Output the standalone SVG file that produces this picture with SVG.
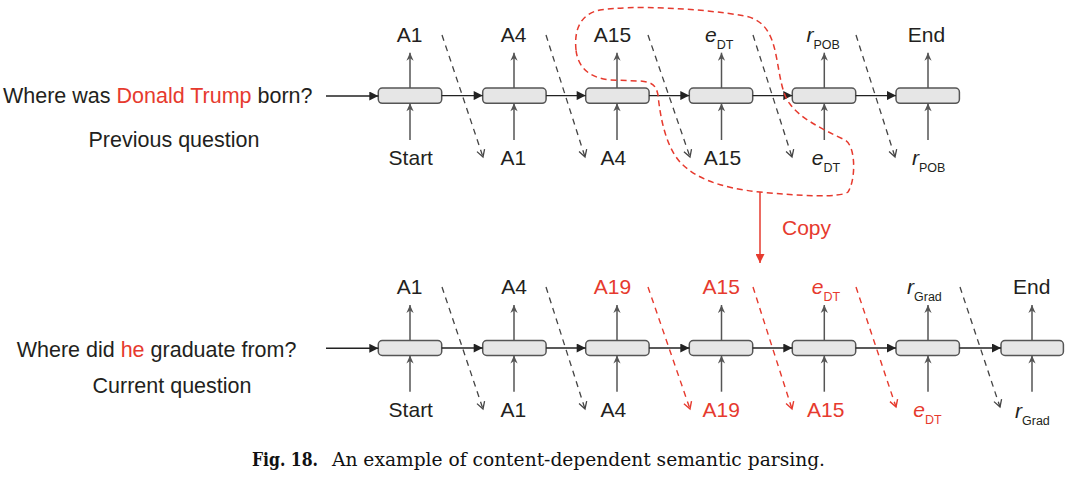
<svg xmlns="http://www.w3.org/2000/svg" width="1071" height="479" viewBox="0 0 1071 479">
<style>
text{font-family:"Liberation Sans",Arial,sans-serif;fill:#231f20;font-size:21px}
.q{font-size:21.5px}
.red{fill:#e63a2e}
.it{font-style:italic}
.sub{font-size:12.5px}
.box{fill:#e6e6e6;stroke:#555;stroke-width:1.5}
.v{stroke:#555;stroke-width:1.5;fill:none;marker-end:url(#up)}
.h{stroke:#222;stroke-width:1.4;fill:none;marker-end:url(#hd)}
.d{stroke:#444;stroke-width:1.3;fill:none;stroke-dasharray:6 5;marker-end:url(#ch)}
.dr{stroke:#e63a2e;stroke-width:1.4;fill:none;stroke-dasharray:6 5;marker-end:url(#chr)}
.cap{font-family:"DejaVu Serif Condensed","DejaVu Serif",serif;font-size:19px;fill:#111}
</style>
<defs>
<marker id="up" markerUnits="userSpaceOnUse" viewBox="0 0 10 10" refX="10" refY="5" markerWidth="9" markerHeight="8" orient="auto"><path d="M0,0.5 L10,5 L0,9.5 L3,5 z" fill="#555"/></marker>
<marker id="hd" markerUnits="userSpaceOnUse" viewBox="0 0 10 10" refX="10" refY="5" markerWidth="11" markerHeight="9" orient="auto"><path d="M0,0 L10,5 L0,10 z" fill="#222"/></marker>
<marker id="ch" markerUnits="userSpaceOnUse" viewBox="-1 -1 10 10" refX="7" refY="4" markerWidth="10" markerHeight="10" orient="auto" overflow="visible"><path d="M0,0 L7,4 L0,8" fill="none" stroke="#444" stroke-width="1.3"/></marker>
<marker id="chr" markerUnits="userSpaceOnUse" viewBox="-1 -1 10 10" refX="7" refY="4" markerWidth="10" markerHeight="10" orient="auto" overflow="visible"><path d="M0,0 L7,4 L0,8" fill="none" stroke="#e63a2e" stroke-width="1.4"/></marker>
<marker id="rd" markerUnits="userSpaceOnUse" viewBox="0 0 10 10" refX="10" refY="5" markerWidth="11" markerHeight="9" orient="auto"><path d="M0,0 L10,5 L0,10 z" fill="#e63a2e"/></marker>
</defs>

<!-- left texts -->
<g id="prev-question">
<text class="q" x="3" y="103.3">Where was <tspan class="red">Donald Trump</tspan> born?</text>
<text class="q" x="174" y="146.7" text-anchor="middle">Previous question</text>
</g>
<g id="curr-question">
<text class="q" x="16.7" y="356.7">Where did <tspan class="red">he</tspan> graduate from?</text>
<text class="q" x="172" y="393.3" text-anchor="middle">Current question</text>
</g>

<!-- top row nodes -->
<g id="t1"><rect class="box" x="378.3" y="88" width="63.4" height="15.3" rx="4"/></g>
<g id="t2"><rect class="box" x="482.7" y="88" width="63.4" height="15.3" rx="4"/></g>
<g id="t3"><rect class="box" x="585.7" y="88" width="63.4" height="15.3" rx="4"/></g>
<g id="t4"><rect class="box" x="689.3" y="88" width="63.4" height="15.3" rx="4"/></g>
<g id="t5"><rect class="box" x="792.3" y="88" width="63.4" height="15.3" rx="4"/></g>
<g id="t6"><rect class="box" x="896" y="88" width="63.4" height="15.3" rx="4"/></g>

<!-- bottom row nodes -->
<g id="b1"><rect class="box" x="378.3" y="340.5" width="63.4" height="15" rx="4"/></g>
<g id="b2"><rect class="box" x="482.7" y="340.5" width="63.4" height="15" rx="4"/></g>
<g id="b3"><rect class="box" x="585.7" y="340.5" width="63.4" height="15" rx="4"/></g>
<g id="b4"><rect class="box" x="689.3" y="340.5" width="63.4" height="15" rx="4"/></g>
<g id="b5"><rect class="box" x="792.3" y="340.5" width="63.4" height="15" rx="4"/></g>
<g id="b6"><rect class="box" x="896" y="340.5" width="63.4" height="15" rx="4"/></g>
<g id="b7"><rect class="box" x="1001" y="340.5" width="62.4" height="15" rx="4"/></g>

<!-- connectors -->
<g id="connectors">
<!-- top row -->
<line class="h" x1="326" y1="96" x2="378.3" y2="96"/>
<line class="h" x1="441.7" y1="95.6" x2="482.7" y2="95.6"/>
<line class="h" x1="546.1" y1="95.6" x2="585.7" y2="95.6"/>
<line class="h" x1="649.1" y1="95.6" x2="689.3" y2="95.6"/>
<line class="h" x1="752.7" y1="95.6" x2="792.3" y2="95.6"/>
<line class="h" x1="855.7" y1="95.6" x2="896" y2="95.6"/>
<line class="v" x1="410" y1="88" x2="410" y2="52.7"/>
<line class="v" x1="514" y1="88" x2="514" y2="52.7"/>
<line class="v" x1="617" y1="88" x2="617" y2="52.7"/>
<line class="v" x1="721.5" y1="88" x2="721.5" y2="52.7"/>
<line class="v" x1="824.3" y1="88" x2="824.3" y2="52.7"/>
<line class="v" x1="928" y1="88" x2="928" y2="52.7"/>
<line class="v" x1="410" y1="140" x2="410" y2="103.3"/>
<line class="v" x1="514" y1="140" x2="514" y2="103.3"/>
<line class="v" x1="617" y1="140" x2="617" y2="103.3"/>
<line class="v" x1="721.5" y1="140" x2="721.5" y2="103.3"/>
<line class="v" x1="824.3" y1="140" x2="824.3" y2="103.3"/>
<line class="v" x1="928" y1="140" x2="928" y2="103.3"/>
<line class="d" x1="442" y1="35" x2="483" y2="157"/>
<line class="d" x1="546" y1="35" x2="585" y2="157"/>
<line class="d" x1="648" y1="35" x2="690" y2="157"/>
<line class="d" x1="753" y1="35" x2="792" y2="157"/>
<line class="d" x1="856" y1="35" x2="895" y2="157"/>
<!-- bottom row -->
<line class="h" x1="326" y1="348.3" x2="378.3" y2="348.3"/>
<line class="h" x1="441.7" y1="348" x2="482.7" y2="348"/>
<line class="h" x1="546.1" y1="348" x2="585.7" y2="348"/>
<line class="h" x1="649.1" y1="348" x2="689.3" y2="348"/>
<line class="h" x1="752.7" y1="348" x2="792.3" y2="348"/>
<line class="h" x1="855.7" y1="348" x2="896" y2="348"/>
<line class="h" x1="959.4" y1="348" x2="1001" y2="348"/>
<line class="v" x1="410" y1="340.5" x2="410" y2="305"/>
<line class="v" x1="514" y1="340.5" x2="514" y2="305"/>
<line class="v" x1="617" y1="340.5" x2="617" y2="305"/>
<line class="v" x1="721.5" y1="340.5" x2="721.5" y2="305"/>
<line class="v" x1="824.3" y1="340.5" x2="824.3" y2="305"/>
<line class="v" x1="928" y1="340.5" x2="928" y2="305"/>
<line class="v" x1="1032" y1="340.5" x2="1032" y2="305"/>
<line class="v" x1="410" y1="391.7" x2="410" y2="355.5"/>
<line class="v" x1="514" y1="391.7" x2="514" y2="355.5"/>
<line class="v" x1="617" y1="391.7" x2="617" y2="355.5"/>
<line class="v" x1="721.5" y1="391.7" x2="721.5" y2="355.5"/>
<line class="v" x1="824.3" y1="391.7" x2="824.3" y2="355.5"/>
<line class="v" x1="928" y1="391.7" x2="928" y2="355.5"/>
<line class="v" x1="1032" y1="391.7" x2="1032" y2="355.5"/>
<line class="d" x1="442" y1="287" x2="483" y2="409"/>
<line class="d" x1="546" y1="287" x2="585" y2="409"/>
<line class="dr" x1="648" y1="287" x2="690" y2="409"/>
<line class="dr" x1="753" y1="287" x2="792" y2="409"/>
<line class="dr" x1="856" y1="287" x2="896" y2="407"/>
<line class="d" x1="960" y1="287" x2="1000" y2="407"/>
<!-- copy region and arrow -->
<path d="M576,50 C574,30 580,14 600,10 C630,5 700,8 745,16 C765,20 772,35 776,55 C780,75 782,95 790,104 C800,118 820,128 845,140 C856,146 856,180 848,192 C840,198 800,196 760,192 C720,188 695,178 680,162 C665,145 660,115 658,95 C656,85 652,82 640,81 L610,80 C590,78 578,68 576,50 Z" fill="none" stroke="#e63a2e" stroke-width="1.5" stroke-dasharray="6 4"/>
<line x1="760" y1="192" x2="760" y2="263" stroke="#e63a2e" stroke-width="1.5" marker-end="url(#rd)"/>
</g>

<!-- labels -->
<g id="labels">
<text x="409.5" y="41.7" text-anchor="middle">A1</text>
<text x="513.5" y="41.7" text-anchor="middle">A4</text>
<text x="612.5" y="41.7" text-anchor="middle">A15</text>
<text x="705" y="41.7"><tspan class="it">e</tspan><tspan class="sub" dy="7">DT</tspan></text>
<text x="806.5" y="41.7"><tspan class="it">r</tspan><tspan class="sub" dy="7">POB</tspan></text>
<text x="926.5" y="41.7" text-anchor="middle">End</text>

<text x="410.8" y="165" text-anchor="middle">Start</text>
<text x="513.3" y="165" text-anchor="middle">A1</text>
<text x="613.3" y="165" text-anchor="middle">A4</text>
<text x="722.5" y="165" text-anchor="middle">A15</text>
<text x="811.7" y="165"><tspan class="it">e</tspan><tspan class="sub" dy="7">DT</tspan></text>
<text x="912" y="165"><tspan class="it">r</tspan><tspan class="sub" dy="7">POB</tspan></text>

<text x="782" y="235" class="red">Copy</text>

<text x="409.5" y="293.5" text-anchor="middle">A1</text>
<text x="514" y="293.5" text-anchor="middle">A4</text>
<text x="612.5" y="293.5" text-anchor="middle" class="red">A19</text>
<text x="721.3" y="293.5" text-anchor="middle" class="red">A15</text>
<text x="811.7" y="293.5" class="red"><tspan class="it">e</tspan><tspan class="sub" dy="7">DT</tspan></text>
<text x="907" y="293.5"><tspan class="it">r</tspan><tspan class="sub" dy="7">Grad</tspan></text>
<text x="1031.7" y="293.5" text-anchor="middle">End</text>

<text x="410.8" y="416.7" text-anchor="middle">Start</text>
<text x="513.3" y="416.7" text-anchor="middle">A1</text>
<text x="613.3" y="416.7" text-anchor="middle">A4</text>
<text x="721.3" y="416.7" text-anchor="middle" class="red">A19</text>
<text x="825.8" y="416.7" text-anchor="middle" class="red">A15</text>
<text x="913.3" y="416.7" class="red"><tspan class="it">e</tspan><tspan class="sub" dy="7">DT</tspan></text>
<text x="1015" y="418"><tspan class="it">r</tspan><tspan class="sub" dy="7">Grad</tspan></text>
</g>

<g id="caption">
<text class="cap" x="252" y="466" font-weight="bold" textLength="66" lengthAdjust="spacingAndGlyphs">Fig. 18.</text>
<text class="cap" x="332" y="466" textLength="493" lengthAdjust="spacingAndGlyphs">An example of content-dependent semantic parsing.</text>
</g>
</svg>
